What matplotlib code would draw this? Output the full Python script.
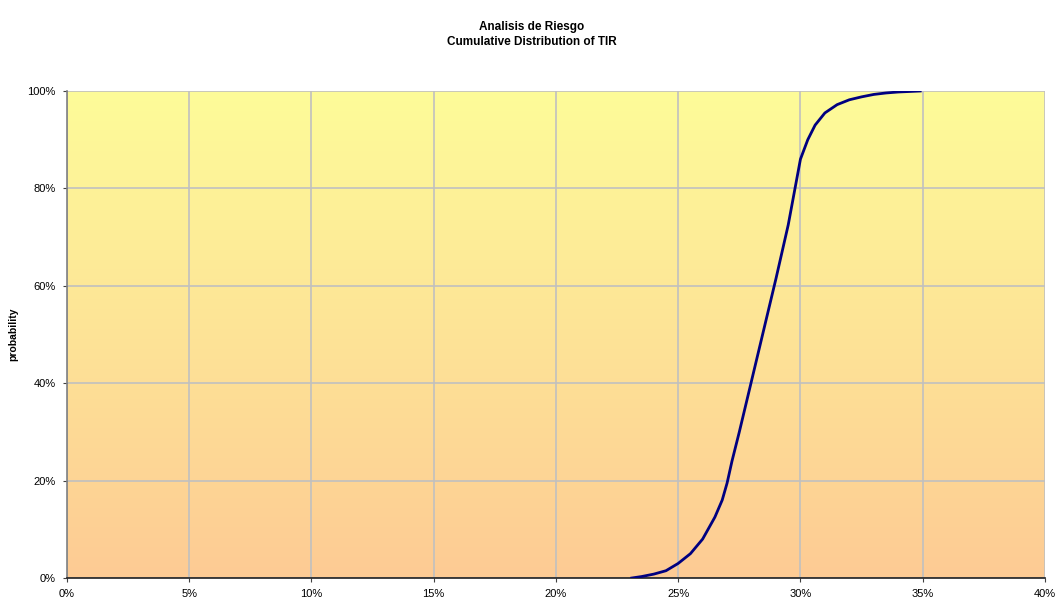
import numpy as np
import matplotlib
matplotlib.use("Agg")
import matplotlib.pyplot as plt
from matplotlib.colors import LinearSegmentedColormap
from matplotlib.ticker import FuncFormatter

# TIR (%) vs cumulative probability (%)
tir = [23.1, 23.5, 24.0, 24.5, 25.0, 25.5, 26.0, 26.5, 26.8, 27.0, 27.2, 27.5,
       28.0, 28.5, 29.0, 29.5, 30.0, 30.3, 30.6, 31.0, 31.5, 32.0, 32.5, 33.0,
       33.5, 34.0, 34.9]
prob = [0, 0.3, 0.8, 1.5, 3, 5, 8, 12.5, 16, 19.5, 24, 30,
        40.5, 51, 61.5, 72.5, 86, 90, 93, 95.5, 97.2, 98.2, 98.8, 99.3,
        99.6, 99.8, 100]

x_ticks = [0, 5, 10, 15, 20, 25, 30, 35, 40]
y_ticks = [0, 20, 40, 60, 80, 100]

plt.rcParams['font.family'] = ['Liberation Sans', 'DejaVu Sans']

fig = plt.figure(figsize=(10.63, 6.08), dpi=100)
ax = fig.add_axes([0.063, 0.0493, 0.92, 0.801])

# yellow to peach background
cmap = LinearSegmentedColormap.from_list("bg", ["#fdcb94", "#fefc99"])
grad = np.linspace(0, 1, 256).reshape(-1, 1)
ax.imshow(grad, extent=[0, 1, 0, 1], transform=ax.transAxes, cmap=cmap,
          origin="lower", aspect="auto", zorder=0)

ax.plot(tir, prob, color="#000080", lw=2.0, zorder=3)

ax.set_xlim(0, 40)
ax.set_ylim(0, 100)
ax.set_xticks(x_ticks)
ax.set_yticks(y_ticks)
ax.xaxis.set_major_formatter(FuncFormatter(lambda v, p: f"{v:.0f}%"))
ax.yaxis.set_major_formatter(FuncFormatter(lambda v, p: f"{v:.0f}%"))
ax.tick_params(labelsize=8, length=3, color="#404040", pad=5)
ax.grid(True, color="#c0c0c0", lw=1.2)
ax.set_axisbelow(True)

for s in ["top", "right"]:
    ax.spines[s].set_visible(False)
ax.spines["left"].set_color("#808080")
ax.spines["left"].set_linewidth(1.2)
ax.spines["bottom"].set_color("#202020")
ax.spines["bottom"].set_linewidth(1.2)

ax.set_ylabel("probability", fontsize=7.5, fontweight="bold")
ax.yaxis.set_label_coords(-0.05, 0.5)

fig.text(0.5, 0.965, "Analisis de Riesgo\nCumulative Distribution of TIR",
         ha="center", va="top", fontsize=8.5, fontweight="bold",
         linespacing=1.35)

fig.savefig("out.png", dpi=100)
